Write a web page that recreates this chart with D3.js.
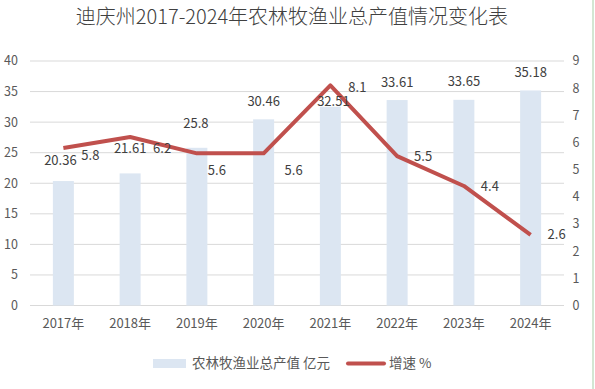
<!DOCTYPE html>
<html lang="zh">
<head>
<meta charset="UTF-8">
<title>迪庆州农林牧渔业总产值</title>
<script src="https://cdn.jsdelivr.net/npm/d3@7/dist/d3.min.js"></script>
<style>
    body { margin: 0; background: #fff; }
    text { font-family: "Noto Sans CJK SC", "Noto Sans", sans-serif; }
</style>
</head>
<body>
<div id="chart"></div>
<script>
    // ---- data ----
    const years = ["2017年", "2018年", "2019年", "2020年", "2021年", "2022年", "2023年", "2024年"];
    const output = [20.36, 21.61, 25.8, 30.46, 32.51, 33.61, 33.65, 35.18];   // 亿元
    const growth = [5.8, 6.2, 5.6, 5.6, 8.1, 5.5, 4.4, 2.6];                  // %
    const leftTicks = [0, 5, 10, 15, 20, 25, 30, 35, 40];
    const rightTicks = [0, 1, 2, 3, 4, 5, 6, 7, 8, 9];

    // label nudges (px), the excel labels were dragged around by hand
    const barLabelShift = [[-3, -21], [0, -25], [-1, -24], [0, -18], [3, -5], [0, -18], [0, -18], [0, -18]];
    const lineLabelShift = [[27, 8], [32, 11], [20, 17], [30, 17], [27, 2], [26, 0], [26, 0], [26, 0]];

    const W = 595, H = 389;
    const plotL = 30, plotR = 564, plotT = 61, plotB = 305.5;

    const svg = d3.select("#chart").append("svg")
        .attr("width", W).attr("height", H);

    const x = d3.scaleBand().domain(years).range([plotL, plotR]);
    const yL = d3.scaleLinear().domain([0, 40]).range([plotB, plotT]);
    const yR = d3.scaleLinear().domain([0, 9]).range([plotB, plotT]);

    // title
    svg.append("text")
        .attr("x", 292).attr("y", 24)
        .attr("text-anchor", "middle")
        .attr("font-size", 20)
        .attr("font-weight", 300)
        .attr("fill", "#404040")
        .text("迪庆州2017-2024年农林牧渔业总产值情况变化表");

    // gridlines
    svg.append("g").selectAll("line")
        .data(leftTicks)
        .join("line")
        .attr("x1", plotL).attr("x2", plotR)
        .attr("y1", d => yL(d)).attr("y2", d => yL(d))
        .attr("stroke", "#d9d9d9").attr("stroke-width", 1);

    // left axis labels
    svg.append("g").selectAll("text")
        .data(leftTicks)
        .join("text")
        .attr("x", 18).attr("y", d => yL(d))
        .attr("dy", "0.35em")
        .attr("text-anchor", "end")
        .attr("font-size", 12.5)
        .attr("fill", "#595959")
        .text(d => d);

    // right axis labels
    svg.append("g").selectAll("text")
        .data(rightTicks)
        .join("text")
        .attr("x", 576).attr("y", d => yR(d))
        .attr("dy", "0.35em")
        .attr("text-anchor", "middle")
        .attr("font-size", 12.5)
        .attr("fill", "#595959")
        .text(d => d);

    // category labels
    svg.append("g").selectAll("text")
        .data(years)
        .join("text")
        .attr("x", d => x(d) + x.bandwidth() / 2)
        .attr("y", 323)
        .attr("dy", "0.35em")
        .attr("text-anchor", "middle")
        .attr("font-size", 13)
        .attr("fill", "#595959")
        .text(d => d);

    // bars
    const barW = 21;
    svg.append("g").selectAll("rect")
        .data(output)
        .join("rect")
        .attr("x", (d, i) => x(years[i]) + x.bandwidth() / 2 - barW / 2)
        .attr("y", d => yL(d))
        .attr("width", barW)
        .attr("height", d => yL(0) - yL(d))
        .attr("fill", "#dce6f2");

    // growth line
    const line = d3.line()
        .x((d, i) => x(years[i]) + x.bandwidth() / 2)
        .y(d => yR(d));
    svg.append("path")
        .datum(growth)
        .attr("d", line)
        .attr("fill", "none")
        .attr("stroke", "#c0504d")
        .attr("stroke-width", 4)
        .attr("stroke-linejoin", "round");

    // bar labels
    svg.append("g").selectAll("text")
        .data(output)
        .join("text")
        .attr("x", (d, i) => x(years[i]) + x.bandwidth() / 2 + barLabelShift[i][0])
        .attr("y", (d, i) => yL(d) + barLabelShift[i][1])
        .attr("dy", "0.35em")
        .attr("text-anchor", "middle")
        .attr("font-size", 13)
        .attr("fill", "#404040")
        .text(d => d);

    // line labels
    svg.append("g").selectAll("text")
        .data(growth)
        .join("text")
        .attr("x", (d, i) => x(years[i]) + x.bandwidth() / 2 + lineLabelShift[i][0])
        .attr("y", (d, i) => yR(d) + lineLabelShift[i][1])
        .attr("dy", "0.35em")
        .attr("text-anchor", "middle")
        .attr("font-size", 13)
        .attr("fill", "#404040")
        .text(d => d);

    // legend
    const lg = svg.append("g");
    lg.append("rect")
        .attr("x", 153).attr("y", 359).attr("width", 33).attr("height", 9)
        .attr("fill", "#dce6f2");
    lg.append("text")
        .attr("x", 192).attr("y", 363.5).attr("dy", "0.35em")
        .attr("font-size", 13.5).attr("fill", "#595959")
        .text("农林牧渔业总产值 亿元");
    lg.append("line")
        .attr("x1", 348).attr("x2", 384).attr("y1", 363.5).attr("y2", 363.5)
        .attr("stroke", "#c0504d").attr("stroke-width", 4).attr("stroke-linecap", "round");
    lg.append("text")
        .attr("x", 389).attr("y", 363.5).attr("dy", "0.35em")
        .attr("font-size", 13.5).attr("fill", "#595959")
        .text("增速 %");

    // sheet border at right edge
    svg.append("line")
        .attr("x1", 593).attr("x2", 593).attr("y1", 0).attr("y2", H)
        .attr("stroke", "#d3e6d3").attr("stroke-width", 2);
</script>
</body>
</html>
